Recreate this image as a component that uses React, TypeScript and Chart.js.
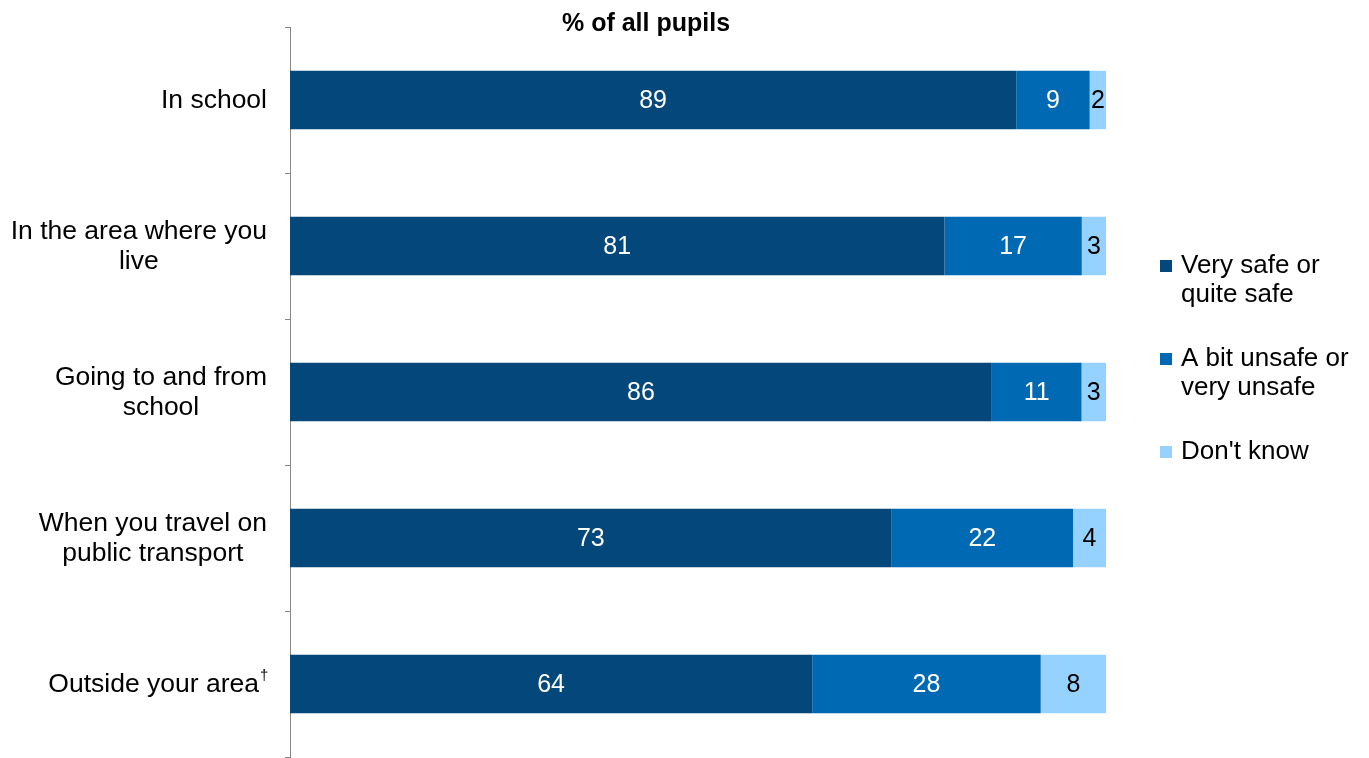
import React, { useEffect, useRef } from "react";
import { Chart, registerables } from "chart.js";

Chart.register(...registerables);

const categories = [
  ["In school"],
  ["In the area where you", "live"],
  ["Going to and from", "school"],
  ["When you travel on", "public transport"],
  ["Outside your area†"],
];
const verySafe = [89, 81, 86, 73, 64];
const unsafe = [9, 17, 11, 22, 28];
const dontKnow = [2, 3, 3, 4, 8];
const seriesNames = [["Very safe or", "quite safe"], ["A bit unsafe or", "very unsafe"], ["Don't know"]];
const seriesColors = ["#04477A", "#0069B4", "#96D2FF"];
const labelColors = ["#FFFFFF", "#FFFFFF", "#000000"];
const title = "% of all pupils";

const FONT = "'Liberation Sans', Arial, sans-serif";

export default function App() {
  const ref = useRef<HTMLCanvasElement | null>(null);
  useEffect(() => {
    const canvas = ref.current!;
    const raw = [verySafe, unsafe, dontKnow];
    const totals = verySafe.map((_, i) => raw.reduce((s, a) => s + a[i], 0));
    const norm = raw.map((arr) => arr.map((v, i) => (v / totals[i]) * 100));

    const plugin = {
      id: "custom",
      afterDraw(chart: any) {
        const ctx = chart.ctx as CanvasRenderingContext2D;
        const y = chart.scales.y;
        ctx.save();
        // title
        ctx.fillStyle = "#000";
        ctx.font = `bold 25px ${FONT}`;
        ctx.textAlign = "center";
        ctx.textBaseline = "middle";
        ctx.fillText(title, 646, 24);
        // category labels
        const catFont = `26.5px ${FONT}`;
        ctx.font = catFont;
        categories.forEach((lines, i) => {
          const cy = y.getPixelForValue(i);
          const clean = lines.map((l) => l.replace("†", ""));
          ctx.font = catFont;
          const widths = clean.map((l) => ctx.measureText(l).width);
          const supW = lines.some((l) => l.includes("†")) ? 8 : 0;
          const maxW = Math.max(...widths) + supW;
          const right = 267;
          const lh = 30;
          const startY = cy - ((lines.length - 1) * lh) / 2 + 1;
          lines.forEach((l, j) => {
            const ly = startY + j * lh;
            const hasSup = l.includes("†");
            const w = widths[j] + (hasSup ? supW : 0);
            const left = right - maxW / 2 - w / 2;
            ctx.font = catFont;
            ctx.textAlign = "left";
            ctx.textBaseline = "middle";
            ctx.fillText(clean[j], left, ly);
            if (hasSup) {
              ctx.font = `15px ${FONT}`;
              ctx.fillText("†", left + widths[j] + 1, ly - 9);
            }
          });
        });
        // bar value labels
        ctx.font = `25px ${FONT}`;
        ctx.textAlign = "center";
        ctx.textBaseline = "middle";
        chart.data.datasets.forEach((ds: any, di: number) => {
          const meta = chart.getDatasetMeta(di);
          meta.data.forEach((bar: any, i: number) => {
            const cx = (bar.x + bar.base) / 2;
            ctx.fillStyle = labelColors[di];
            ctx.fillText(String(raw[di][i]), cx, bar.y + 1);
          });
        });
        // legend
        const legendTops = [266, 359, 452];
        seriesNames.forEach((lines, i) => {
          const ty = legendTops[i];
          ctx.fillStyle = seriesColors[i];
          ctx.fillRect(1160, ty - 6, 12, 12);
          ctx.fillStyle = "#000";
          ctx.font = `26px ${FONT}`;
          ctx.textAlign = "left";
          lines.forEach((l, j) => ctx.fillText(l, 1181, ty + j * 29));
        });
        ctx.restore();
      },
    };

    const chart = new Chart(canvas, {
      type: "bar",
      data: {
        labels: categories.map((c) => c.join(" ")),
        datasets: norm.map((d, i) => ({
          label: seriesNames[i].join(" "),
          data: d,
          backgroundColor: seriesColors[i],
          borderWidth: 0,
          barPercentage: 0.4,
          categoryPercentage: 1,
        })),
      },
      options: {
        indexAxis: "y",
        responsive: false,
        animation: false,
        events: [],
        layout: { padding: { left: 0, top: 27, right: 1369 - 1106, bottom: 1 } },
        plugins: { legend: { display: false }, tooltip: { enabled: false }, title: { display: false } },
        scales: {
          x: { display: false, stacked: true, min: 0, max: 100 },
          y: {
            stacked: true,
            ticks: { display: false },
            grid: { drawOnChartArea: false, drawTicks: true, tickLength: 5, color: "#868686", offset: true },
            border: { display: true, color: "#868686", width: 1 },
            afterFit(scale: any) {
              scale.width = 290;
            },
          },
        },
      },
      plugins: [plugin],
    });
    return () => chart.destroy();
  }, []);
  return (
    <div style={{ position: "fixed", left: 0, top: 0, width: 1369, height: 758, background: "#fff" }}>
      <canvas ref={ref} width={1369} height={758} style={{ display: "block" }} />
    </div>
  );
}
